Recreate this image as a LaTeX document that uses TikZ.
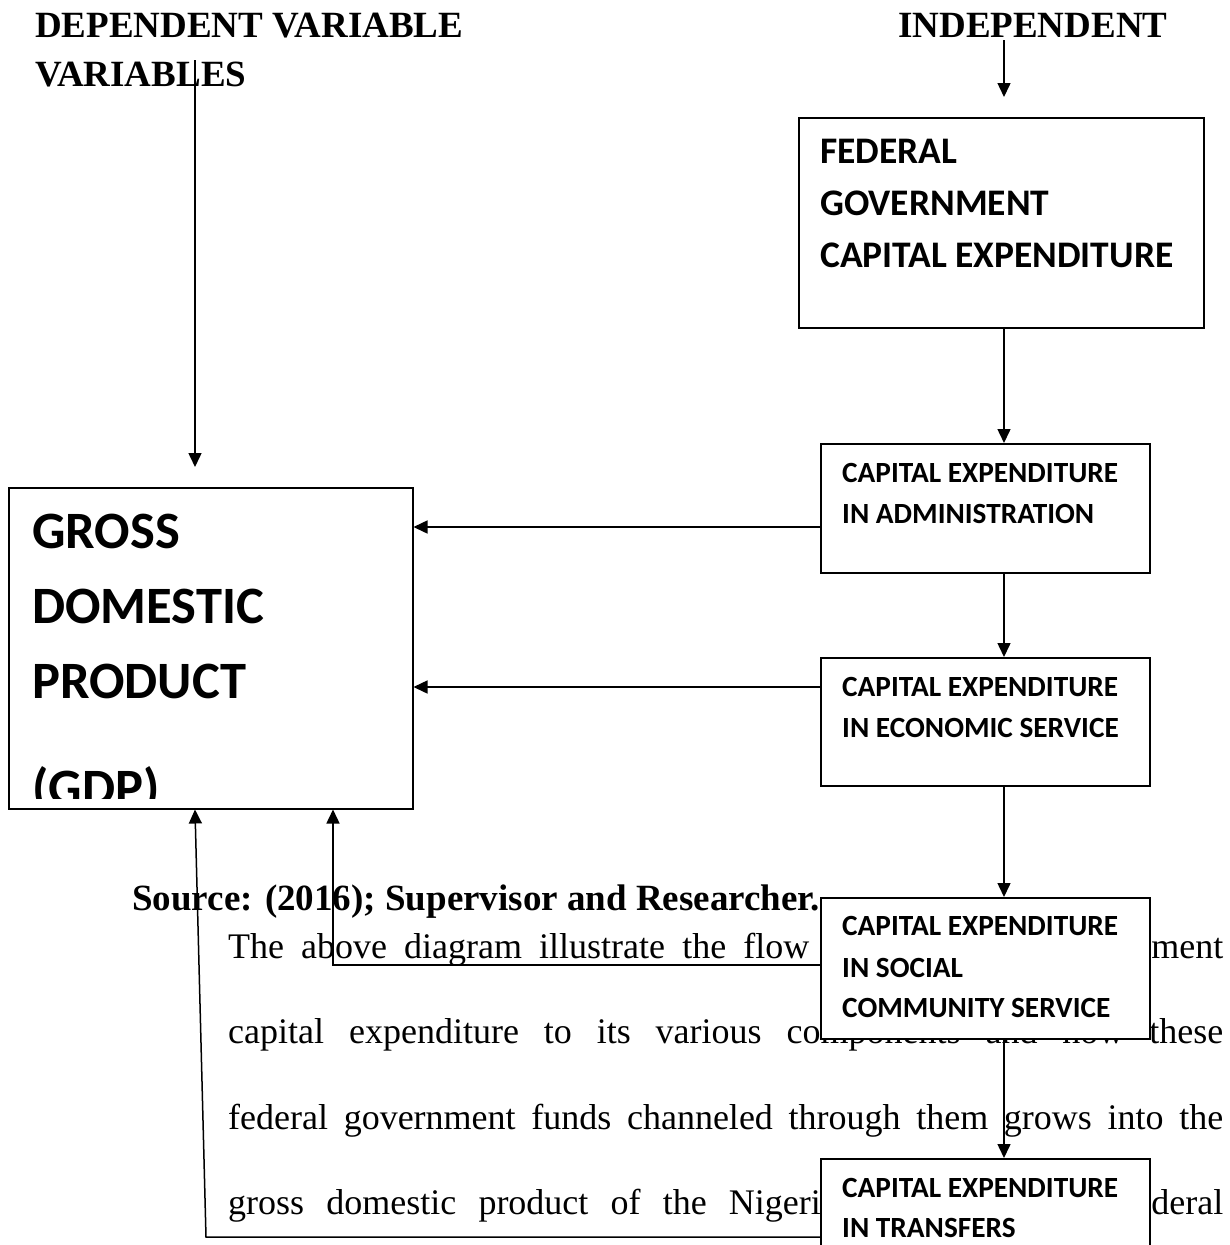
\documentclass[tikz,border=0pt]{standalone}
\usepackage{fontspec}
\setmainfont{Liberation Serif}
\newfontfamily\boxfont{Carlito}
\usetikzlibrary{arrows.meta}
\begin{document}
\begin{tikzpicture}[x=1pt,y=-1pt,
  conn/.style={line width=1.5pt,-{Triangle[length=14pt,width=13pt]}},
  boxshape/.style={draw,line width=1.5pt,fill=white,rectangle,inner sep=0pt,anchor=north west},
  smalltxt/.style={anchor=base west,inner sep=0pt,font=\boxfont\bfseries\fontsize{29.3}{35}\selectfont},
  fedtxt/.style={anchor=base west,inner sep=0pt,font=\boxfont\bfseries\fontsize{37.5}{44}\selectfont},
  gdptxt/.style={anchor=base west,inner sep=0pt,font=\boxfont\bfseries\fontsize{52.5}{62}\selectfont},
  headtxt/.style={anchor=base west,inner sep=0pt,font=\bfseries\fontsize{37}{43}\selectfont},
  bodytxt/.style={anchor=base west,inner sep=0pt,font=\fontsize{36}{43}\selectfont}]
\path[use as bounding box,clip] (0,0) rectangle (1230,1245);

% headings
\node[headtxt] (h1) at (35,37) {DEPENDENT VARIABLE};
\node[headtxt] (h2) at (35,86) {VARIABLES};
\node[headtxt] (h3) at (898,37) {INDEPENDENT};

% body text (behind the boxes)
\node[headtxt] (src) at (132,910) {Source: (2016); Supervisor and Researcher.};
\node[bodytxt] (t1) at (228,958) {\makebox[995pt][s]{The above diagram illustrate the flow of the federal government}};
\node[bodytxt] (t2) at (228,1043) {\makebox[995pt][s]{capital expenditure to its various components and how these}};
\node[bodytxt] (t3) at (228,1129) {\makebox[995pt][s]{federal government funds channeled through them grows into the}};
\node[bodytxt] (t4) at (228,1214) {\makebox[995pt][s]{gross domestic product of the Nigerian country. The federal}};

% boxes
\node[boxshape,minimum width=405pt,minimum height=210pt] (fed) at (798,117) {};
\node[boxshape,minimum width=329pt,minimum height=129pt] (admin) at (820,443) {};
\node[boxshape,minimum width=329pt,minimum height=128pt] (econ) at (820,657) {};
\node[boxshape,minimum width=329pt,minimum height=141pt] (social) at (820,897) {};
\node[boxshape,minimum width=329pt,minimum height=150pt] (transfers) at (820,1158) {};
\node[boxshape,minimum width=404pt,minimum height=321pt] (gdp) at (8,487) {};

% connectors
\coordinate (depTop) at (195,60);
\coordinate (depTip) at (195,467);
\draw[conn] (depTop) -- (depTip);
\coordinate (indTop) at (1004,40);
\coordinate (indTip) at (1004,97);
\draw[conn] (indTop) -- (indTip);
\coordinate (colx) at (1004,0);
\draw[conn] (colx |- fed.south) -- (colx |- admin.north);
\draw[conn] (colx |- admin.south) -- (colx |- econ.north);
\draw[conn] (colx |- econ.south) -- (colx |- social.north);
\draw[conn] (colx |- social.south) -- (colx |- transfers.north);
\coordinate (r1) at (0,527);
\coordinate (r2) at (0,687);
\draw[conn] (admin.west |- r1) -- (gdp.east |- r1);
\draw[conn] (econ.west |- r2) -- (gdp.east |- r2);
\coordinate (loopA) at (333,965);
\draw[conn] (social.west |- loopA) -- (loopA) -- (loopA |- gdp.south);
\coordinate (loopB) at (206,1237);
\coordinate (loopBx) at (195,0);
\draw[conn] (transfers.west |- loopB) -- (loopB) -- (loopBx |- gdp.south);

% box texts
\node[fedtxt] (f1) at (820,163) {FEDERAL};
\node[fedtxt] (f2) at (820,215) {GOVERNMENT};
\node[fedtxt] (f3) at (820,267) {CAPITAL EXPENDITURE};
\node[smalltxt] (a1) at (842,482) {CAPITAL EXPENDITURE};
\node[smalltxt] (a2) at (842,523) {IN ADMINISTRATION};
\node[smalltxt] (e1) at (842,696) {CAPITAL EXPENDITURE};
\node[smalltxt] (e2) at (842,737) {IN ECONOMIC SERVICE};
\node[smalltxt] (s1) at (842,935) {CAPITAL EXPENDITURE};
\node[smalltxt] (s2) at (842,977) {IN SOCIAL};
\node[smalltxt] (s3) at (842,1017) {COMMUNITY SERVICE};
\node[smalltxt] (x1) at (842,1197) {CAPITAL EXPENDITURE};
\node[smalltxt] (x2) at (842,1237) {IN TRANSFERS};
\begin{scope}
\clip (9,488) rectangle (411,798);
\node[gdptxt] (g1) at (32,548) {GROSS};
\node[gdptxt] (g2) at (32,623) {DOMESTIC};
\node[gdptxt] (g3) at (32,698) {PRODUCT};
\node[gdptxt] (g4) at (32,805) {(GDP)};
\end{scope}
\end{tikzpicture}
\end{document}
